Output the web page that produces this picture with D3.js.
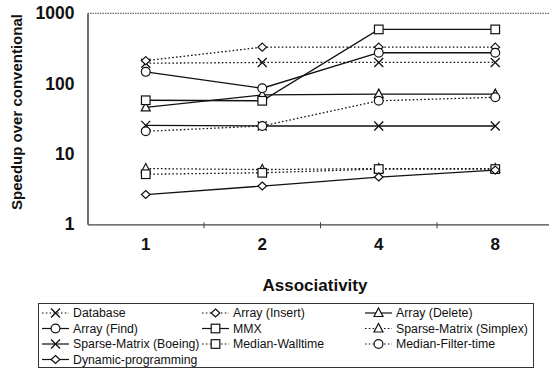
<!DOCTYPE html>
<html>
<head>
<meta charset="utf-8">
<script src="https://cdn.jsdelivr.net/npm/d3@7"></script>
<style>
  html, body { margin: 0; padding: 0; background: #fff; }
  svg { display: block; font-family: "Liberation Sans", Arial, Helvetica, sans-serif; }
</style>
</head>
<body>
<svg id="chart" width="549" height="371"></svg>
<script>
// Associativity levels on the x axis
const associativity = ["1", "2", "4", "8"];
const yTicks = [1, 10, 100, 1000];

// Speedup of each benchmark, one value per associativity level
const database          = [195, 200, 200, 200];
const arrayInsert       = [212, 330, 330, 330];
const arrayDelete       = [46, 69, 71, 71];
const arrayFind         = [147, 86, 275, 275];
const mmx               = [58, 57, 590, 590];
const sparseSimplex     = [6.2, 6.0, 6.2, 6.2];
const sparseBoeing      = [25.5, 25, 25, 25];
const medianWalltime    = [5.15, 5.4, 6.1, 6.1];
const medianFilterTime  = [21, 25, 57, 64];
const dynamicProgramming = [2.65, 3.5, 4.7, 5.9];

const seriesNames = [
  "Database", "Array (Insert)", "Array (Delete)",
  "Array (Find)", "MMX", "Sparse-Matrix (Simplex)",
  "Sparse-Matrix (Boeing)", "Median-Walltime", "Median-Filter-time",
  "Dynamic-programming"
];
const seriesValues = [
  database, arrayInsert, arrayDelete,
  arrayFind, mmx, sparseSimplex,
  sparseBoeing, medianWalltime, medianFilterTime,
  dynamicProgramming
];
const seriesMarkers = [
  "x", "diamond", "triangle",
  "circle", "square", "triangle",
  "x", "square", "circle",
  "diamond"
];
const seriesDotted = [
  true, true, false,
  false, false, true,
  false, true, true,
  false
];

const series = seriesNames.map((name, i) => ({
  name, values: seriesValues[i], marker: seriesMarkers[i], dotted: seriesDotted[i]
}));

const svg = d3.select("#chart");
const ink = "#111";

const plot = { left: 87.5, right: 553.5, top: 13.3, bottom: 224.3 };

const x = d3.scaleBand().domain(associativity).range([plot.left, plot.right]);
const xc = d => x(d) + x.bandwidth() / 2;
const y = d3.scaleLog().domain([1, 1000]).range([plot.bottom, plot.top]);

// Plot frame: dotted top edge, solid left edge
svg.append("line")
  .attr("x1", plot.left).attr("x2", 549)
  .attr("y1", y(1000)).attr("y2", y(1000))
  .attr("stroke", "#444").attr("stroke-width", 1)
  .attr("stroke-dasharray", "1.5,1");

// Y axis
const yAxis = d3.axisLeft(y).tickValues(yTicks).tickSize(0).tickPadding(13)
  .tickFormat(d3.format("d"));
const gy = svg.append("g").attr("transform", `translate(${plot.left},0)`).call(yAxis);
gy.select(".domain").attr("stroke", "#333").attr("stroke-width", 1.4);
gy.selectAll("text")
  .attr("fill", ink).attr("font-size", 17.5).attr("font-weight", "bold");

// X axis with ticks on category boundaries
const xAxis = d3.axisBottom(x).tickSize(0).tickPadding(14);
const gx = svg.append("g").attr("transform", `translate(0,${plot.bottom})`).call(xAxis);
gx.select(".domain").attr("stroke", "#444").attr("stroke-width", 1.2);
gx.selectAll("text")
  .attr("fill", ink).attr("font-size", 17).attr("font-weight", "bold");
gx.selectAll(".boundary")
  .data(associativity.slice(1))
  .enter().append("line")
  .attr("class", "boundary")
  .attr("x1", d => x(d)).attr("x2", d => x(d))
  .attr("y1", -2).attr("y2", 4)
  .attr("stroke", "#444").attr("stroke-width", 1);

// Axis titles
svg.append("text")
  .attr("x", 315).attr("y", 291)
  .attr("text-anchor", "middle")
  .attr("font-size", 17).attr("font-weight", "bold").attr("fill", ink)
  .text("Associativity");

svg.append("text")
  .attr("transform", "translate(22,112) rotate(-90)")
  .attr("text-anchor", "middle")
  .attr("font-size", 15).attr("font-weight", "bold").attr("fill", ink)
  .text("Speedup over conventional");

// Marker shapes drawn as open outlines
function drawMarker(g, type, cx, cy) {
  const common = s => s.attr("fill", "#fff").attr("stroke", ink).attr("stroke-width", 1.2);
  if (type === "circle") {
    common(g.append("circle").attr("cx", cx).attr("cy", cy).attr("r", 4.4));
  } else if (type === "square") {
    common(g.append("rect").attr("x", cx - 4.3).attr("y", cy - 4.3).attr("width", 8.6).attr("height", 8.6));
  } else if (type === "diamond") {
    common(g.append("path").attr("d", `M${cx},${cy - 4}L${cx + 4.3},${cy}L${cx},${cy + 4}L${cx - 4.3},${cy}Z`));
  } else if (type === "triangle") {
    common(g.append("path").attr("d", `M${cx},${cy - 5}L${cx + 4.5},${cy + 3.5}L${cx - 4.5},${cy + 3.5}Z`));
  } else if (type === "x") {
    g.append("path")
      .attr("d", `M${cx - 4.5},${cy - 4.5}L${cx + 4.5},${cy + 4.5}M${cx + 4.5},${cy - 4.5}L${cx - 4.5},${cy + 4.5}`)
      .attr("stroke", ink).attr("stroke-width", 1.3).attr("fill", "none");
  }
}

const line = d3.line()
  .x((d, i) => xc(associativity[i]))
  .y(d => y(d));

const gLines = svg.append("g");
series.forEach(s => {
  gLines.append("path")
    .attr("d", line(s.values))
    .attr("fill", "none")
    .attr("stroke", ink)
    .attr("stroke-width", 1.3)
    .attr("stroke-dasharray", s.dotted ? "1.6,2.2" : null);
});
const gMarks = svg.append("g");
series.forEach(s => {
  s.values.forEach((v, i) => drawMarker(gMarks, s.marker, xc(associativity[i]), y(v)));
});

// Legend
const legend = svg.append("g");
legend.append("rect")
  .attr("x", 38.5).attr("y", 303.5).attr("width", 495).attr("height", 64)
  .attr("fill", "#fff").attr("stroke", "#333").attr("stroke-width", 1);

const colX = [40, 200, 363];
const rowY = [313, 328.5, 344, 359.5];
series.forEach((s, i) => {
  const cx = colX[i % 3], cy = rowY[Math.floor(i / 3)];
  const g = legend.append("g");
  g.append("line")
    .attr("x1", cx + 2).attr("x2", cx + 29)
    .attr("y1", cy).attr("y2", cy)
    .attr("stroke", ink).attr("stroke-width", 1.2)
    .attr("stroke-dasharray", s.dotted ? "1.6,2.2" : null);
  drawMarker(g, s.marker, cx + 15.5, cy);
  g.append("text")
    .attr("x", cx + 33).attr("y", cy + 4)
    .attr("font-size", 12.3).attr("fill", ink)
    .text(s.name);
});
</script>
</body>
</html>
